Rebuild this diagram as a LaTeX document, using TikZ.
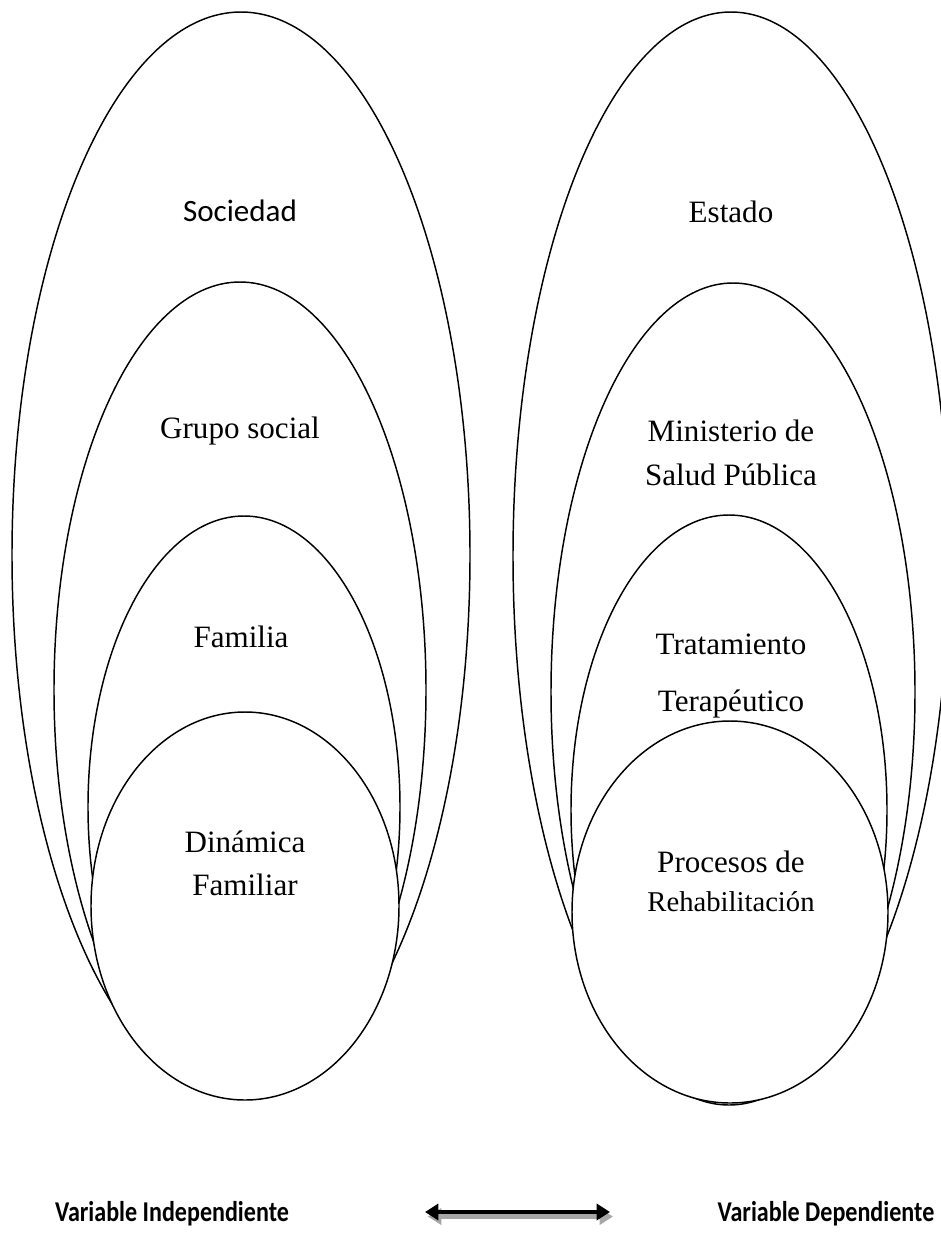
\documentclass[tikz,border=0pt]{standalone}
\usepackage{fontspec}
\setmainfont{Liberation Serif}
\newfontfamily\calibrifont{Carlito}
\usetikzlibrary{arrows.meta}
\begin{document}
\begin{tikzpicture}[x=0.75pt,y=-0.75pt,
  ring/.style={draw=black, fill=white, line width=1.1pt},
  lbl/.style={anchor=base, inner sep=0pt, font=\fontsize{23.3pt}{28pt}\selectfont},
  sanslbl/.style={anchor=base, inner sep=0pt, font=\calibrifont\fontsize{23.3pt}{28pt}\selectfont},
  varlbl/.style={anchor=base, inner sep=0pt, xscale=0.84, transform shape,
    font=\calibrifont\bfseries\fontsize{21.5pt}{26pt}\selectfont},
  link/.style={{Triangle[length=10pt,width=12pt]}-{Triangle[length=10pt,width=12pt]}, line width=3.2pt}
]
\useasboundingbox (0,0) rectangle (941,1253);

% left group of nested ellipses
\draw[ring] (241,555) ellipse [x radius=229, y radius=543];
\draw[ring] (240,690) ellipse [x radius=186, y radius=408];
\draw[ring] (244,807) ellipse [x radius=156, y radius=291];
\draw[ring] (245,906) ellipse [x radius=154, y radius=194];

% right group of nested ellipses
\draw[ring] (731,556) ellipse [x radius=218, y radius=544];
\draw[ring] (733,692) ellipse [x radius=182, y radius=409];
\draw[ring] (729,810) ellipse [x radius=158, y radius=295];
\draw[ring] (730,912) ellipse [x radius=158, y radius=191];

% labels
\node[sanslbl] (sociedad) at (240,221) {Sociedad};
\node[lbl] (grupo) at (240,438) {Grupo social};
\node[lbl] (familia) at (241,647) {Familia};
\node[lbl] (dinamica) at (245,852) {Dinámica};
\node[lbl] (familiar) at (245,895) {Familiar};

\node[lbl] (estado) at (731,222) {Estado};
\node[lbl] (ministerio) at (731,441) {Ministerio de};
\node[lbl] (salud) at (731,485) {Salud Pública};
\node[lbl] (tratamiento) at (731,654) {Tratamiento};
\node[lbl] (terapeutico) at (731,711) {Terapéutico};
\node[lbl] (procesos) at (731,872) {Procesos de};
\node[lbl] (rehab) at (731,911) {\fontsize{21.5pt}{26pt}\selectfont Rehabilitación};

% variables and the two-way arrow between them
\node[varlbl] (indep) at (172,1221) {Variable Independiente};
\node[varlbl] (dep) at (826,1221) {Variable Dependiente};
\coordinate (aL) at (425,1212);
\coordinate (aR) at (610,1212);
\draw[link, draw=gray!70, fill=gray!70, transform canvas={shift={(2.2pt,-3.4pt)}}] (aL) -- (aR);
\draw[link, draw=black, fill=black] (aL) -- (aR);
\end{tikzpicture}
\end{document}
